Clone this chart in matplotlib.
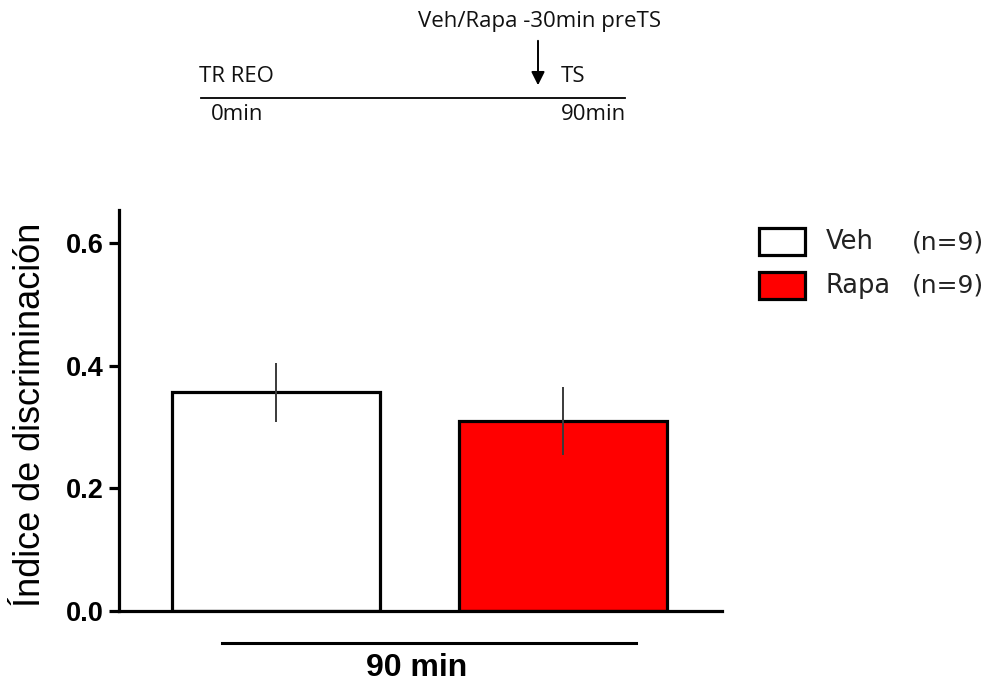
import matplotlib.pyplot as plt
from matplotlib.patches import Rectangle

# data
groups = ['Veh', 'Rapa']
n_lbl = ['(n=9)', '(n=9)']
means = [0.357, 0.310]
sems = [0.048, 0.056]
colors = ['white', '#ff0000']
yticks = [0.0, 0.2, 0.4, 0.6]

W, H = 988, 683
fig = plt.figure(figsize=(W / 100, H / 100), dpi=100)


def fx(px):
    return px / W


def fy(py):
    # pixel from top -> figure fraction
    return 1 - py / H


ax = fig.add_axes([fx(119), fy(611), fx(722 - 119), (611 - 210) / H])
x = [0, 1]
ax.bar(x, means, width=0.725, color=colors, edgecolor='black', linewidth=2.3, zorder=2)
ax.errorbar(x, means, yerr=sems, fmt='none', ecolor='#3a3a3a', elinewidth=1.4, capsize=0, zorder=3)
ax.set_xlim(-0.547, 1.554)
ax.set_ylim(0, 0.654)
ax.set_yticks(yticks)
ax.set_yticklabels([f'{t:.1f}' for t in yticks], fontsize=19.5, fontweight='bold', family='Liberation Sans')
ax.set_xticks([])
for s in ['top', 'right']:
    ax.spines[s].set_visible(False)
ax.spines['left'].set_linewidth(2.3)
ax.spines['bottom'].set_linewidth(2.3)
ax.tick_params(axis='y', length=7, width=2.3, pad=4)
ax.set_ylabel('Índice de discriminación', fontsize=26, family='Liberation Sans', va='center')
ax.yaxis.set_label_coords((30 - 119) / 603, (611 - 415) / 401)

# legend drawn by hand
box_top = [228, 272]
for i, (g, c) in enumerate(zip(groups, colors)):
    fig.add_artist(Rectangle((fx(759), fy(box_top[i] + 27)), fx(46), 27 / H, facecolor=c,
                             edgecolor='black', linewidth=2.3, transform=fig.transFigure))
    fig.text(fx(826), fy(box_top[i] + 14), g, fontsize=18.5, family='DejaVu Sans', va='center',
             color='#222222')
    fig.text(fx(912), fy(box_top[i] + 14), n_lbl[i], fontsize=18, family='DejaVu Sans', va='center',
             color='#222222')

# bottom group label
fig.add_artist(plt.Line2D([fx(222), fx(636)], [fy(643), fy(643)], color='black', lw=2.2))
fig.text(fx(417), fy(668), '90 min', ha='center', va='center', fontsize=23, fontweight='bold',
         family='Liberation Sans')

# timeline schematic
sfont = dict(fontsize=16, family='Open Sans', color='#111111')
fig.text(fx(540), fy(21), 'Veh/Rapa -30min preTS', ha='center', va='center', **sfont)
fig.text(fx(199), fy(76), 'TR REO', ha='left', va='center', **sfont)
fig.text(fx(561), fy(76), 'TS', ha='left', va='center', **sfont)
fig.text(fx(211), fy(115), '0min', ha='left', va='center', **sfont)
fig.text(fx(626), fy(115), '90min', ha='right', va='center', **sfont)
fig.add_artist(plt.Line2D([fx(201), fx(625)], [fy(98), fy(98)], color='black', lw=1.3))
ax.annotate('', xy=(538, H - 88), xycoords='figure pixels', xytext=(538, H - 38),
            textcoords='figure pixels',
            arrowprops=dict(arrowstyle='-|>', color='black', lw=1.4, mutation_scale=20))

fig.savefig('out.png', dpi=100)
